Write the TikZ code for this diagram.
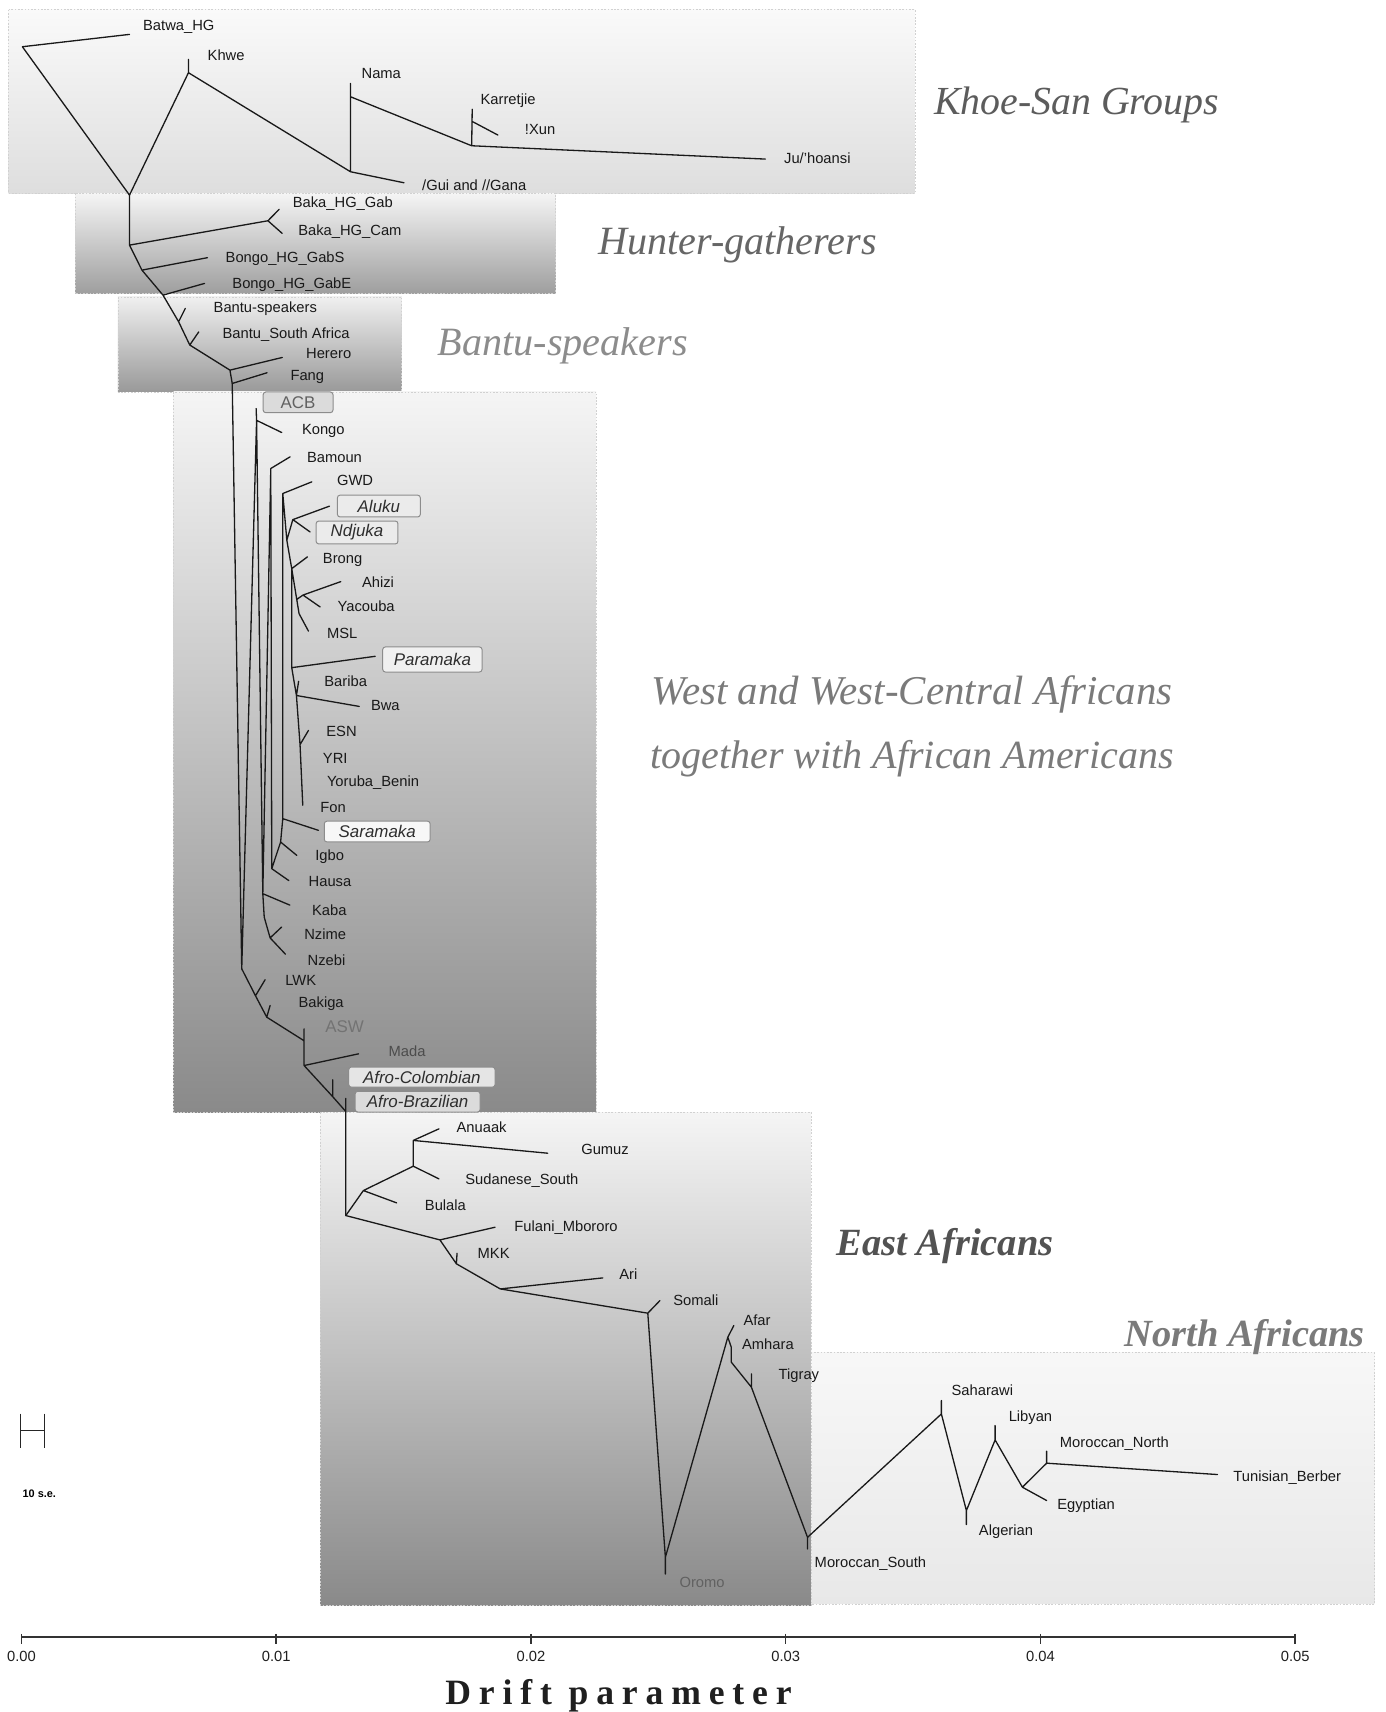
\documentclass[tikz,border=0pt]{standalone}
\usepackage{fontspec}
\setmainfont{Liberation Sans}
\newfontfamily\titleserif{Liberation Serif}
\newfontfamily\driftfont[LetterSpace=22]{Liberation Serif}
\usepackage{graphicx}
\begin{document}
\begin{tikzpicture}[x=1pt,y=-1pt,
  br/.style={line width=1.2pt,draw=black!90,line cap=round,line join=round},
  lab/.style={anchor=west,inner sep=0pt,font=\fontsize{13.5}{14}\selectfont,text height=9.7pt,text depth=0pt,text=black!90},
  boxlab/.style={draw=black!45,line width=0.9pt,rounded corners=2.5pt,inner sep=0pt,font=\fontsize{15.5}{16}\selectfont\itshape,text=black!82},
  region/.style={draw=black!18,dash pattern=on 1.5pt off 1.5pt,line width=0.7pt},
  gtitle/.style={inner sep=0pt,anchor=center},
  axtick/.style={line width=1.4pt,draw=black!80},
  axlab/.style={inner sep=0pt,font=\fontsize{13.5}{14}\selectfont,text=black!88}]

\useasboundingbox (0,0) rectangle (1269,1568);
\fill[white] (0,0) rectangle (1269,1568);

% ---------- regions ----------
\path[region,top color=black!2,bottom color=black!13] (8,9) rectangle (838,177);
\path[region,top color=black!4,middle color=black!10,bottom color=black!38] (69,177) rectangle (509,269);
\path[region,top color=black!6,middle color=black!13,bottom color=black!40] (108,272) rectangle (368,359);
\path[region,top color=black!4,bottom color=black!46] (159,359) rectangle (546,1019);
\path[region,top color=black!4,bottom color=black!46] (293.5,1019) rectangle (743,1470);
\path[region,top color=black!3,bottom color=black!9] (743,1239) rectangle (1259,1469);

% ---------- tree coordinates ----------
% Khoe-San
\coordinate (kroot) at (20.5,42.8);
\coordinate (batwa) at (118.6,31.5);
\coordinate (ks) at (118.6,178.7);
\coordinate (khwen) at (172.6,66.6);
\coordinate (khwet) at (172.6,54.4);
\coordinate (guin) at (321,157.3);
\coordinate (namat) at (321,76.4);
\coordinate (namab) at (321,88.6);
\coordinate (guit) at (370,167.4);
\coordinate (karn) at (432,133.5);
\coordinate (kart) at (432.5,100);
\coordinate (ixunb) at (433,111.5);
\coordinate (ixunt) at (456,123.7);
\coordinate (juht) at (701,145.7);
% Hunter-gatherers and Bantu
\coordinate (hg1) at (118.6,224.5);
\coordinate (bakan) at (245.4,202.2);
\coordinate (bakagab) at (255.6,191.8);
\coordinate (bakacam) at (258.5,213.8);
\coordinate (hg2) at (130,247.4);
\coordinate (gabs) at (190,236);
\coordinate (hg3) at (149.3,270.3);
\coordinate (gabe) at (187.3,259.6);
\coordinate (bt1) at (163.6,294.7);
\coordinate (bt1t) at (169.7,282.5);
\coordinate (bt2) at (173.8,316);
\coordinate (bt2t) at (182,304);
\coordinate (her) at (210.6,339);
\coordinate (hert) at (258.5,327.4);
\coordinate (fangn) at (212.7,351.2);
\coordinate (fangt) at (244.6,341.4);
% West
\coordinate (wA) at (221.4,887.3);
\coordinate (kongon) at (235,385);
\coordinate (acbt) at (234.6,374.2);
\coordinate (kongot) at (258,396.1);
\coordinate (bamn) at (248,429.1);
\coordinate (bamt) at (265.7,418.4);
\coordinate (kaban) at (240.7,818.5);
\coordinate (kabat) at (265.5,829);
\coordinate (kabam) at (242,840);
\coordinate (nzn) at (247.4,859);
\coordinate (nzimet) at (258,849);
\coordinate (nzebit) at (261.5,874);
\coordinate (hausan) at (248.9,795.6);
\coordinate (hausat) at (264.5,806.5);
\coordinate (gwdn) at (259,452);
\coordinate (gwdt) at (285.6,441.3);
\coordinate (saran) at (259,749.8);
\coordinate (sarat) at (291.7,760.5);
\coordinate (igbon) at (257,771.2);
\coordinate (igbot) at (271.8,783.4);
\coordinate (x1) at (262.7,494.8);
\coordinate (aln) at (268.2,475.9);
\coordinate (alt) at (301.7,463.6);
\coordinate (ndjt) at (284,487.2);
\coordinate (brn) at (267.2,520.8);
\coordinate (brt) at (281.6,510);
\coordinate (msl1) at (273.9,562);
\coordinate (mslt) at (282.5,578);
\coordinate (ahb) at (271.8,549);
\coordinate (ahn) at (277.5,545);
\coordinate (ahizit) at (312.1,532.7);
\coordinate (yact) at (293.2,555.9);
\coordinate (parn) at (267.2,611.5);
\coordinate (part) at (343.6,601.1);
\coordinate (bwan) at (271.5,637);
\coordinate (barit) at (273.5,624);
\coordinate (bwat) at (329,647);
\coordinate (esnn) at (274.8,682);
\coordinate (esnt) at (282.5,669);
\coordinate (font) at (277.3,737.5);
\coordinate (lwkn) at (234,912);
\coordinate (lwkt) at (242.8,897.3);
\coordinate (bakn) at (244.3,931.6);
\coordinate (bakt) at (247.4,920.9);
\coordinate (aswn) at (278.5,953.2);
\coordinate (aswt) at (278.5,942.3);
\coordinate (madan) at (278.5,975.9);
\coordinate (madat) at (328.3,965.2);
\coordinate (afcn) at (304.8,1004.5);
\coordinate (afct) at (304.8,989);
\coordinate (afbn) at (316.7,1018);
\coordinate (afbt) at (316.7,1006);
% East
\coordinate (e0) at (316.7,1113.3);
\coordinate (e1) at (332.8,1090.4);
\coordinate (bult) at (363.3,1101.7);
\coordinate (e2) at (378.5,1068.1);
\coordinate (sudt) at (402,1079.7);
\coordinate (e3) at (378.5,1044.5);
\coordinate (gumt) at (501.6,1056.2);
\coordinate (anut) at (402,1033.9);
\coordinate (e4) at (402.9,1135.6);
\coordinate (fult) at (453.4,1124);
\coordinate (e5) at (418,1157.5);
\coordinate (mkkt) at (418.6,1147.8);
\coordinate (e6) at (458.2,1180.5);
\coordinate (arit) at (552.1,1170.4);
\coordinate (e7) at (593.3,1202.7);
\coordinate (somt) at (604.5,1191.1);
\coordinate (oron) at (609.4,1426.3);
\coordinate (orot) at (609.4,1441.6);
\coordinate (afarn) at (666.6,1224.7);
\coordinate (afart) at (672.1,1214);
\coordinate (amht) at (669.8,1234);
\coordinate (amhn) at (669.8,1247.6);
\coordinate (tign) at (688.2,1270.5);
\coordinate (tigt) at (688.2,1258.3);
\coordinate (msn) at (739.6,1408);
\coordinate (mst) at (739.6,1418.7);
% North
\coordinate (sahn) at (862.2,1295);
\coordinate (saht) at (862.2,1282.7);
\coordinate (algn) at (885.1,1383.5);
\coordinate (algt) at (885.1,1396.3);
\coordinate (libn) at (911.4,1318.8);
\coordinate (libt) at (911.4,1305.6);
\coordinate (egn) at (936.4,1362.1);
\coordinate (egt) at (958.6,1374.3);
\coordinate (mnn) at (958.6,1340.1);
\coordinate (mnt) at (958.6,1329.1);
\coordinate (tbt) at (1115.1,1350.5);

% ---------- tree branches ----------
\draw[br] (batwa) -- (kroot) -- (ks) -- (khwen) -- (guin)
  (khwen) -- (khwet) (guin) -- (namat) (namab) -- (karn) (guin) -- (guit)
  (karn) -- (kart) (ixunb) -- (ixunt) (karn) -- (juht);
\draw[br] (ks) -- (hg1) -- (hg2) -- (hg3) -- (bt1) -- (bt2) -- (her) -- (fangn)
  (hg1) -- (bakan) (bakan) -- (bakagab) (bakan) -- (bakacam)
  (hg2) -- (gabs) (hg3) -- (gabe) (bt1) -- (bt1t) (bt2) -- (bt2t)
  (her) -- (hert) (fangn) -- (fangt);
\draw[br] (fangn) -- (wA) (kongon) -- (wA) (kongon) -- (acbt) (kongon) -- (kongot)
  (kongon) -- (kaban) (bamn) -- (kaban) (bamn) -- (bamt) (bamn) -- (hausan)
  (kaban) -- (kabat) (kaban) -- (kabam) -- (nzn) (nzn) -- (nzimet) (nzn) -- (nzebit)
  (gwdn) -- (gwdt) (gwdn) -- (saran) -- (igbon) -- (hausan) (hausan) -- (hausat)
  (saran) -- (sarat) (igbon) -- (igbot)
  (gwdn) -- (x1) -- (aln) (aln) -- (alt) (aln) -- (ndjt)
  (x1) -- (brn) (brn) -- (brt) (brn) -- (msl1) -- (mslt) (ahb) -- (ahn)
  (ahn) -- (ahizit) (ahn) -- (yact)
  (brn) -- (parn) (parn) -- (part) (parn) -- (bwan) (bwan) -- (barit) (bwan) -- (bwat)
  (bwan) -- (esnn) -- (font) (esnn) -- (esnt);
\draw[br] (wA) -- (lwkn) -- (bakn) -- (aswn) (lwkn) -- (lwkt) (bakn) -- (bakt)
  (aswt) -- (madan) (madan) -- (madat) (madan) -- (afcn) -- (afbn) (afcn) -- (afct)
  (afbt) -- (e0);
\draw[br] (e0) -- (e1) -- (e2) -- (e3) (e1) -- (bult) (e2) -- (sudt) (e3) -- (gumt) (e3) -- (anut)
  (e0) -- (e4) -- (e5) -- (e6) -- (e7) -- (oron) -- (afarn) -- (amht) -- (amhn) -- (tign) -- (msn)
  (e4) -- (fult) (e5) -- (mkkt) (e6) -- (arit) (e7) -- (somt) (oron) -- (orot)
  (afarn) -- (afart) (tign) -- (tigt) (msn) -- (mst);
\draw[br] (msn) -- (sahn) -- (algn) -- (libn) -- (egn) -- (mnn) -- (tbt)
  (sahn) -- (saht) (algn) -- (algt) (libn) -- (libt) (egn) -- (egt) (mnn) -- (mnt);

% ---------- leaf labels ----------
\node[lab] (lbatwa) at (130.9,22.9) {Batwa\_HG};
\node[lab] (lkhwe) at (190,51) {Khwe};
\node[lab] (lnama) at (331,67) {Nama};
\node[lab] (lkarr) at (440,91) {Karretjie};
\node[lab] (lxun) at (480.6,118.5) {!Xun};
\node[lab] (ljuh) at (718,145) {Ju/'hoansi};
\node[lab] (lgui) at (386.5,169.5) {/Gui and //Gana};
\node[lab] (lbgab) at (268,184.8) {Baka\_HG\_Gab};
\node[lab] (lbcam) at (273,210.7) {Baka\_HG\_Cam};
\node[lab] (lgabs) at (206.5,236) {Bongo\_HG\_GabS};
\node[lab] (lgabe) at (212.7,259) {Bongo\_HG\_GabE};
\node[lab] (lbsp) at (195.5,281) {Bantu-speakers};
\node[lab] (lbsa) at (203.7,304.8) {Bantu\_South Africa};
\node[lab] (lher) at (280.2,323.7) {Herero};
\node[lab] (lfang) at (265.9,343.6) {Fang};
\node[boxlab,fill=black!14,font=\fontsize{15.5}{16}\selectfont,text=black!62,minimum width=64pt,minimum height=19pt] (lacb) at (273,368.5) {ACB};
\node[lab] (lkongo) at (276.4,393.4) {Kongo};
\node[lab] (lbam) at (281,419) {Bamoun};
\node[lab] (lgwd) at (308.5,440) {GWD};
\node[boxlab,fill=black!8,minimum width=76pt,minimum height=20pt] (laluku) at (347,463.5) {Aluku};
\node[boxlab,fill=black!8,minimum width=75pt,minimum height=21pt] (lndj) at (327,487.7) {Ndjuka};
\node[lab] (lbrong) at (295.6,511.6) {Brong};
\node[lab] (lahizi) at (331.4,533.6) {Ahizi};
\node[lab] (lyac) at (309,555) {Yacouba};
\node[lab] (lmsl) at (299.3,580.3) {MSL};
\node[boxlab,fill=black!6,minimum width=91pt,minimum height=23pt] (lpar) at (396,604) {Paramaka};
\node[lab] (lbariba) at (296.9,624) {Bariba};
\node[lab] (lbwa) at (339.6,646) {Bwa};
\node[lab] (lesn) at (298.7,669.5) {ESN};
\node[lab] (lyri) at (295.6,694) {YRI};
\node[lab] (lyb) at (299.3,715.3) {Yoruba\_Benin};
\node[lab] (lfon) at (293.2,739.2) {Fon};
\node[boxlab,fill=black!3,minimum width=97pt,minimum height=19pt] (lsara) at (345.5,761.6) {Saramaka};
\node[lab] (ligbo) at (288.6,783.4) {Igbo};
\node[lab] (lhausa) at (282.5,807) {Hausa};
\node[lab] (lkaba) at (285.6,833.8) {Kaba};
\node[lab] (lnzime) at (278.5,855.8) {Nzime};
\node[lab] (lnzebi) at (281.6,879) {Nzebi};
\node[lab] (llwk) at (261.1,898) {LWK};
\node[lab] (lbakiga) at (273.3,917.8) {Bakiga};
\node[lab,font=\fontsize{15.5}{16}\selectfont,text=black!55] (lasw) at (297.8,940.7) {ASW};
\node[lab,text=black!70] (lmada) at (355.8,963) {Mada};
\node[boxlab,fill=black!10,minimum width=134pt,minimum height=18.5pt] (lafc) at (386.4,986.5) {Afro-Colombian};
\node[boxlab,fill=black!14,minimum width=114.5pt,minimum height=19pt] (lafb) at (382.5,1009) {Afro-Brazilian};
\node[lab] (lanu) at (418,1032.3) {Anuaak};
\node[lab] (lgum) at (532.2,1052.2) {Gumuz};
\node[lab] (lsud) at (426,1079.7) {Sudanese\_South};
\node[lab] (lbul) at (389,1103.5) {Bulala};
\node[lab] (lful) at (471,1123.3) {Fulani\_Mbororo};
\node[lab] (lmkk) at (437.3,1147.8) {MKK};
\node[lab] (lari) at (567,1166.7) {Ari};
\node[lab] (lsom) at (616.5,1190.5) {Somali};
\node[lab] (lafar) at (680.8,1208.9) {Afar};
\node[lab] (lamh) at (679.5,1231.5) {Amhara};
\node[lab] (ltig) at (713,1258.3) {Tigray};
\node[lab,text=black!62] (loro) at (622.2,1449.2) {Oromo};
\node[lab] (lms) at (746,1431) {Moroccan\_South};
\node[lab] (lsah) at (871.4,1273) {Saharawi};
\node[lab] (llib) at (923.7,1297.4) {Libyan};
\node[lab] (lmn) at (970.6,1320.9) {Moroccan\_North};
\node[lab] (ltb) at (1129.5,1352.4) {Tunisian\_Berber};
\node[lab] (legy) at (968.2,1378) {Egyptian};
\node[lab] (lalg) at (896.4,1401.8) {Algerian};

% ---------- group titles ----------
\node[gtitle,text=black!64] (tkhoe) at (986,96) {\resizebox{261pt}{!}{\titleserif\itshape Khoe-San Groups}};
\node[gtitle,text=black!60] (thg) at (675.5,224) {\resizebox{255pt}{!}{\titleserif\itshape Hunter-gatherers}};
\node[gtitle,text=black!45] (tbantu) at (515.5,317) {\resizebox{229pt}{!}{\titleserif\itshape Bantu-speakers}};
\node[gtitle,text=black!52] (twest1) at (835.5,636) {\resizebox{477pt}{!}{\titleserif\itshape West and West-Central Africans}};
\node[gtitle,text=black!52] (twest2) at (835.5,695) {\resizebox{479pt}{!}{\titleserif\itshape together with African Americans}};
\node[gtitle,text=black!68] (teast) at (865.5,1141) {\resizebox{199pt}{!}{\titleserif\bfseries\itshape East Africans}};
\node[gtitle,text=black!52] (tnorth) at (1140,1225) {\resizebox{220pt}{!}{\titleserif\bfseries\itshape North Africans}};

% ---------- scale bar ----------
\coordinate (h1) at (18.4,1294.7);
\coordinate (h2) at (18.4,1325.8);
\coordinate (h3) at (40.9,1294.7);
\coordinate (h4) at (40.9,1325.8);
\coordinate (h5) at (18.4,1310.2);
\coordinate (h6) at (40.9,1310.2);
\draw[line width=0.9pt,black!85] (h1) -- (h2) (h3) -- (h4) (h5) -- (h6);
\node[anchor=west,inner sep=0pt,font=\fontsize{10}{11}\selectfont\bfseries] (lse) at (20.5,1368) {10 s.e.};

% ---------- axis ----------
\coordinate (ax0) at (19.6,1499.6);
\coordinate (ax5) at (1186.2,1499.6);
\draw[line width=1.8pt,black!80] (ax0) -- (ax5);
\foreach \i/\t in {0/0.00,1/0.01,2/0.02,3/0.03,4/0.04,5/0.05}{
  \coordinate (tka\i) at ({19.6+233.32*\i},1496.5);
  \coordinate (tkb\i) at ({19.6+233.32*\i},1506);
  \draw[axtick] (tka\i) -- (tkb\i);
  \node[axlab] (tl\i) at ({19.6+233.32*\i},1517) {\t};
}
\node[gtitle,text=black!88] (tdrift) at (566.5,1553) {\resizebox{317pt}{!}{\driftfont\bfseries Drift parameter}};
\end{tikzpicture}
\end{document}
